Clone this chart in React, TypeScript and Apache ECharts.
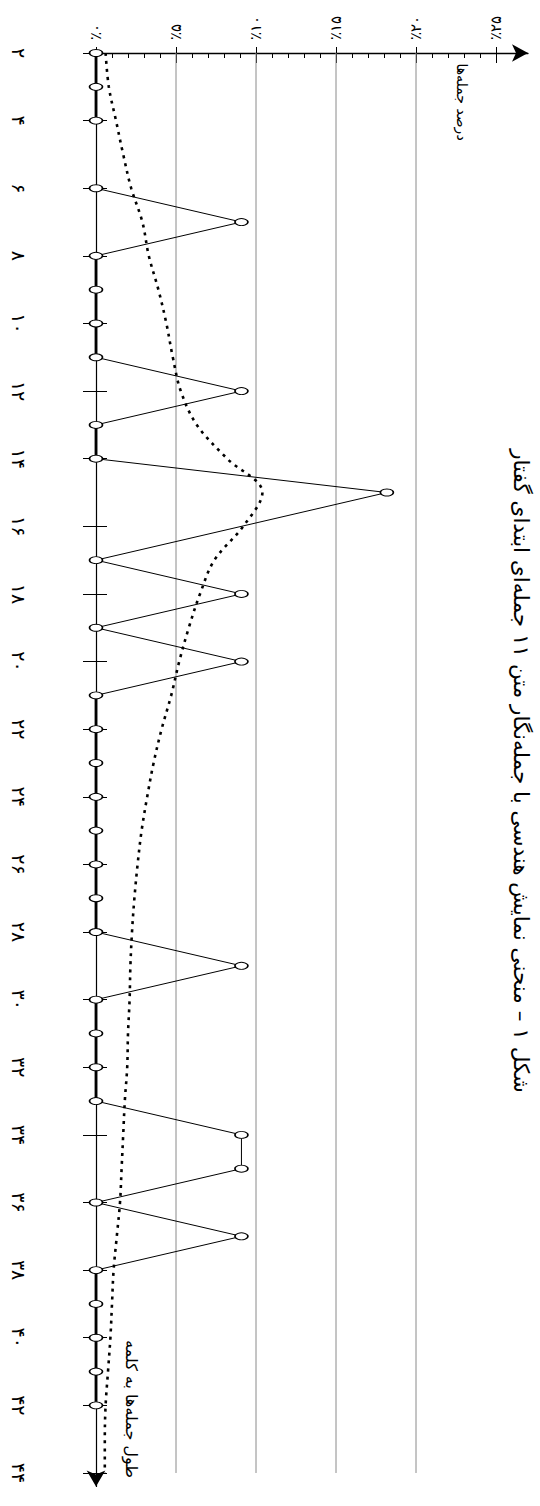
import React, { useEffect, useRef } from "react";
import * as echarts from "echarts";

// ---- data ----
const lengthTicks = [2, 4, 6, 8, 10, 12, 14, 16, 18, 20, 22, 24, 26, 28, 30, 32, 34, 36, 38, 40, 42, 44];
const percentTicks = [0, 5, 10, 15, 20, 25];
const percentMinorTicks = [0, 1, 2, 3, 4, 5, 6, 7, 8, 9, 10, 11, 12, 13, 14, 15, 16, 17, 18, 19, 20, 21, 22, 23, 24, 25];
const gridPercents = [5, 10, 15, 20];

// observed sentence-length distribution (11 sentences, one sentence = 9.09%)
const sentenceLengths = [2, 3, 4, 5, 6, 7, 8, 9, 10, 11, 12, 13, 14, 15, 17, 18, 19, 20, 21, 22, 23, 24, 25, 26, 27, 28, 29, 30, 31, 32, 33, 34, 35, 36, 37, 38, 39, 40, 41, 42];
const sentencePercents = [0, 0, 0, null, 0, 9.09, 0, 0, 0, 0, 9.09, 0, 0, 18.18, 0, 9.09, 0, 9.09, 0, 0, 0, 0, 0, 0, 0, 0, 9.09, 0, 0, 0, 0, 9.09, 9.09, 0, 9.09, 0, 0, 0, 0, 0];

// fitted (dotted) curve
const curveLengths = [2, 3, 4, 5, 6, 7, 8, 9, 10, 11, 12, 13, 14, 15, 16, 17, 18, 19, 20, 21, 22, 23, 24, 25, 26, 27, 28, 29, 30, 31, 32, 33, 34, 35, 36, 37, 38, 39, 40, 41, 42, 43, 44];
const curvePercents = [0.6, 0.8, 1.25, 1.7, 2.2, 2.9, 3.3, 3.9, 4.4, 4.8, 5.3, 6.3, 8.2, 10.4, 9.2, 7.4, 6.5, 5.8, 5.2, 4.7, 4.1, 3.6, 3.2, 2.85, 2.6, 2.4, 2.25, 2.15, 2.1, 2.0, 1.95, 1.8, 1.7, 1.6, 1.5, 1.3, 1.1, 1.0, 0.9, 0.75, 0.6, 0.55, 0.55];

const titleText = "شکل ۱ – منحنی نمایش هندسی با جمله‌نگار متن ۱۱ جمله‌ای ابتدای گفتار";
const percentAxisName = "درصد جمله‌ها";
const lengthAxisName = "طول جمله‌ها به کلمه";

const FONT = "DejaVu Sans";
const fa = (n: number | string) => String(n).replace(/\d/g, (d) => "۰۱۲۳۴۵۶۷۸۹"[Number(d)]);

export default function App() {
  const ref = useRef<HTMLDivElement>(null);

  useEffect(() => {
    if (!ref.current) return;
    const chart = echarts.init(ref.current, undefined, { renderer: "svg" });

    const X_MIN = 0, X_MAX = 27;
    const Y_MIN = 2, Y_MAX = 44.4;

    const baseX = {
      type: "value",
      position: "top",
      min: X_MIN,
      max: X_MAX,
      splitLine: { show: false },
    };
    const baseY = {
      type: "value",
      position: "left",
      inverse: true,
      min: Y_MIN,
      max: Y_MAX,
      splitLine: { show: false },
    };

    const mainData = sentenceLengths.map((l, i) => [sentencePercents[i] === null ? "-" : sentencePercents[i], l]);
    const zeroData = sentenceLengths.map((l, i) => [sentencePercents[i] === 0 ? 0 : "-", l]);
    const curveData = curveLengths.map((l, i) => [curvePercents[i], l]);

    const gridSeries = gridPercents.map((g) => ({
      type: "line",
      xAxisIndex: 0,
      yAxisIndex: 0,
      data: [[g, lengthTicks[0]], [g, lengthTicks[lengthTicks.length - 1]]],
      symbol: "none",
      silent: true,
      z: 1,
      lineStyle: { color: "#8a8a8a", width: 1 },
    }));

    const option: any = {
      animation: false,
      backgroundColor: "#ffffff",
      textStyle: { fontFamily: FONT },
      grid: { left: 96, right: 12, top: 53, bottom: 19.5, containLabel: false },
      xAxis: [
        {
          ...baseX,
          axisLine: {
            show: true,
            onZero: false,
            symbol: ["none", "arrow"],
            symbolSize: [13, 16],
            lineStyle: { color: "#000", width: 1.3 },
          },
          axisTick: { show: true, customValues: percentTicks, inside: false, length: 6, lineStyle: { color: "#000", width: 1 } },
          axisLabel: {
            show: true,
            customValues: percentTicks,
            formatter: (v: number) => "٪" + fa(v),
            rotate: -90,
            margin: 13,
            color: "#000",
            fontSize: 15,
            fontFamily: FONT,
          },
        },
        {
          ...baseX,
          axisLine: { show: false, onZero: false },
          axisTick: { show: true, customValues: percentTicks, inside: true, length: 10, lineStyle: { color: "#000", width: 1 } },
          axisLabel: { show: false },
        },
        {
          ...baseX,
          axisLine: { show: false, onZero: false },
          axisTick: { show: true, customValues: percentMinorTicks, inside: true, length: 5, lineStyle: { color: "#000", width: 1 } },
          axisLabel: { show: false },
        },
      ],
      yAxis: [
        {
          ...baseY,
          axisLine: {
            show: true,
            onZero: false,
            symbol: ["arrow", "none"],
            symbolSize: [14, 16],
            lineStyle: { color: "#000", width: 1.2 },
          },
          axisTick: { show: true, customValues: lengthTicks, inside: false, length: 13, lineStyle: { color: "#000", width: 1 } },
          axisLabel: {
            show: true,
            customValues: lengthTicks,
            formatter: (v: number) => fa(v),
            rotate: -90,
            margin: 68,
            color: "#000",
            fontSize: 19,
            fontFamily: FONT,
          },
        },
        {
          ...baseY,
          axisLine: { show: false, onZero: false },
          axisTick: { show: true, customValues: lengthTicks, inside: true, length: 11, lineStyle: { color: "#000", width: 1 } },
          axisLabel: { show: false },
        },
      ],
      graphic: [
        {
          type: "text",
          x: 521,
          y: 771,
          rotation: -Math.PI / 2,
          style: { text: titleText, fontSize: 21.5, fontFamily: FONT, fill: "#000", align: "center", verticalAlign: "middle" },
        },
        {
          type: "text",
          x: 462,
          y: 102,
          rotation: -Math.PI / 2,
          style: { text: percentAxisName, fontSize: 14, fontFamily: FONT, fill: "#000", align: "center", verticalAlign: "middle" },
        },
        {
          type: "text",
          x: 131,
          y: 1409,
          rotation: -Math.PI / 2,
          style: { text: lengthAxisName, fontSize: 16, fontFamily: FONT, fill: "#000", align: "center", verticalAlign: "middle" },
        },
      ],
      series: [
        ...gridSeries,
        {
          type: "line",
          name: "curve",
          xAxisIndex: 0,
          yAxisIndex: 0,
          data: curveData,
          smooth: 0.35,
          symbol: "none",
          silent: true,
          z: 3,
          lineStyle: { color: "#000", width: 2.6, type: [3, 5], cap: "butt" },
        },
        {
          type: "line",
          name: "zero",
          xAxisIndex: 0,
          yAxisIndex: 0,
          data: zeroData,
          symbol: "none",
          silent: true,
          z: 4,
          lineStyle: { color: "#000", width: 2.8 },
        },
        {
          type: "line",
          name: "observed",
          xAxisIndex: 0,
          yAxisIndex: 0,
          data: mainData,
          symbol: "circle",
          symbolSize: [13, 7],
          showAllSymbol: true,
          connectNulls: false,
          silent: true,
          z: 5,
          lineStyle: { color: "#000", width: 1 },
          itemStyle: { color: "#fff", borderColor: "#000", borderWidth: 1.2 },
        },
      ],
    };

    chart.setOption(option);
    return () => chart.dispose();
  }, []);

  return (
    <div
      ref={ref}
      style={{ position: "absolute", left: 0, top: 0, width: 540, height: 1506, background: "#fff" }}
    />
  );
}
